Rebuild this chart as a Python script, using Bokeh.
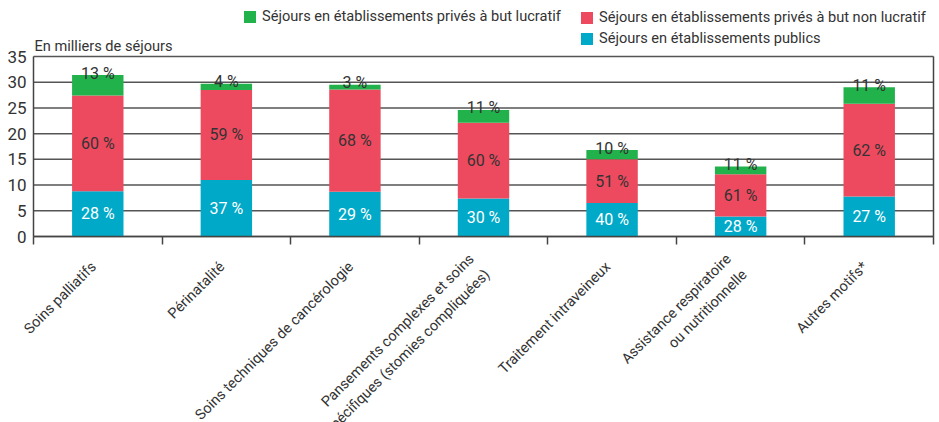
import math
from bokeh.plotting import figure
from bokeh.models import (ColumnDataSource, Range1d, LinearAxis, FixedTicker,
                          CustomJSTickFormatter, Legend, LegendItem, Label)
from bokeh.core.properties import value
from bokeh.embed import file_html
from bokeh.resources import INLINE

categories = [
    "Soins palliatifs",
    "Périnatalité",
    "Soins techniques de cancérologie",
    "Pansements complexes et soins\nspécifiques (stomies compliquées)",
    "Traitement intraveineux",
    "Assistance respiratoire\nou nutritionnelle",
    "Autres motifs*",
]
publics = [8.8, 11.0, 8.7, 7.4, 6.5, 3.9, 7.8]
prives_non_lucratif = [18.6, 17.5, 19.9, 14.7, 8.5, 8.2, 18.0]
prives_lucratif = [4.0, 1.2, 0.9, 2.5, 1.8, 1.5, 3.2]
pct_publics = ["28 %", "37 %", "29 %", "30 %", "40 %", "28 %", "27 %"]
pct_non_lucratif = ["60 %", "59 %", "68 %", "60 %", "51 %", "61 %", "62 %"]
pct_lucratif = ["13 %", "4 %", "3 %", "11 %", "10 %", "11 %", "11 %"]
y_ticks = [0, 5, 10, 15, 20, 25, 30, 35]
y_tick_labels = [str(t) for t in y_ticks]
series_names = [
    "Séjours en établissements publics",
    "Séjours en établissements privés à but non lucratif",
    "Séjours en établissements privés à but lucratif",
]
y_title = "En milliers de séjours"

colors = ["#00a9c8", "#ee4a5f", "#22b24c"]
FONT = "Roboto"
TXT = "#333333"
LINE = "#444444"

n = len(categories)
xs = [i + 0.5 for i in range(n)]
mid_pub = [v / 2 for v in publics]
mid_nl = [p + q / 2 for p, q in zip(publics, prives_non_lucratif)]
tops = [p + q + r for p, q, r in zip(publics, prives_non_lucratif, prives_lucratif)]

source = ColumnDataSource(dict(
    x=xs, pub=publics, nl=prives_non_lucratif, lu=prives_lucratif,
    mid_pub=mid_pub, mid_nl=mid_nl, top=tops,
    pct_pub=pct_publics, pct_nl=pct_non_lucratif, pct_lu=pct_lucratif,
))

# the frame fills the whole canvas (939 x 422); the data box spans
# x 33..933 px and y 56..236 px inside it
ppx = 900 / n
ppu = 180 / 35
p = figure(width=939, height=422,
           x_range=Range1d(-33 / ppx, n + 6 / ppx),
           y_range=Range1d(-186 / ppu, 35 + 56 / ppu),
           x_axis_location=None, y_axis_location=None,
           output_backend="svg", toolbar_location=None,
           min_border_left=0, min_border_right=0, min_border_top=0, min_border_bottom=0)
p.title.visible = False
p.outline_line_color = None
p.background_fill_color = "white"
p.border_fill_color = "white"
p.xgrid.visible = False
p.ygrid.visible = False

# horizontal grid lines, limited to the data box
p.segment(x0=0, x1=n, y0=y_ticks, y1=y_ticks, line_color="#555555", line_width=1.5)

rs = p.vbar_stack(["pub", "nl", "lu"], x="x", width=0.4, fill_color=colors,
                  line_color=None, source=source)

p.text(x="x", y="mid_pub", text="pct_pub", source=source, text_font=value(FONT),
       text_font_size="16px", text_color="white", text_align="center", text_baseline="middle")
p.text(x="x", y="mid_nl", text="pct_nl", source=source, text_font=value(FONT),
       text_font_size="16px", text_color=TXT, text_align="center", text_baseline="middle")
p.text(x="x", y="top", text="pct_lu", source=source, text_font=value(FONT),
       text_font_size="16px", text_color=TXT, text_align="center", text_baseline="alphabetic",
       y_offset=-2)

# axis lines of the data box (no labels, so they take no room)
def bare_axis(**kw):
    base = dict(formatter=CustomJSTickFormatter(code="return '';"),
                major_tick_out=0, major_tick_in=0, minor_tick_out=0, minor_tick_in=0,
                major_label_text_font_size="0px", major_label_standoff=0,
                axis_line_color=LINE, axis_line_width=1.5,
                major_tick_line_color=LINE, major_tick_line_width=1.5)
    base.update(kw)
    return LinearAxis(**base)

left_axis = bare_axis(ticker=FixedTicker(ticks=y_ticks), fixed_location=0, bounds=(0, 35))
right_axis = bare_axis(ticker=FixedTicker(ticks=[]), fixed_location=n, bounds=(0, 35))
bottom_axis = bare_axis(ticker=FixedTicker(ticks=list(range(n + 1))), fixed_location=0,
                        bounds=(0, n), major_tick_in=8)
p.add_layout(left_axis, "left")
p.add_layout(right_axis, "right")
p.add_layout(bottom_axis, "above")

# y tick labels, left of the box
p.text(x=0, y=y_ticks, text=y_tick_labels, x_offset=-7, text_font=value(FONT),
       text_font_size="17px", text_color=TXT, text_align="right", text_baseline="middle")

# category labels, rotated, ending under the middle of each category
for xc, lab in zip(xs, categories):
    p.add_layout(Label(x=xc, y=0, text=lab, angle=math.pi / 4,
                       text_font=FONT, text_font_size="14.5px", text_color=TXT,
                       text_align="right", text_baseline="middle",
                       x_offset=-4, y_offset=-28, text_line_height=1.3))

leg_style = dict(background_fill_alpha=0, border_line_color=None, padding=0, margin=0,
                 glyph_width=15, glyph_height=15, label_height=19, label_standoff=5,
                 label_text_font=FONT, label_text_font_size="14.6px", label_text_color=TXT,
                 spacing=2)
legA = Legend(items=[LegendItem(label=series_names[2], renderers=[rs[2]])],
              location=(242, 396.5), **leg_style)
legB = Legend(items=[LegendItem(label=series_names[1], renderers=[rs[1]]),
                     LegendItem(label=series_names[0], renderers=[rs[0]])],
              location=(579, 374.5), **leg_style)
p.add_layout(legA)
p.add_layout(legB)

p.add_layout(Label(x=34, y=376.5, x_units="screen", y_units="screen", text=y_title,
                   text_font=FONT, text_font_size="14.6px", text_color=TXT,
                   text_baseline="alphabetic"))

open("out.html", "w").write(file_html(p, INLINE))
